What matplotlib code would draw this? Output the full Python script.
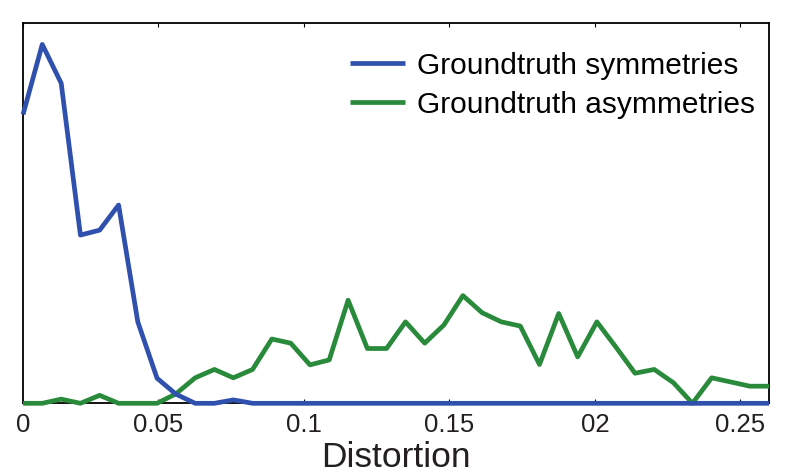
import matplotlib
matplotlib.use("Agg")
import matplotlib.pyplot as plt

# bin centres (distortion)
x = [0.0037, 0.0103, 0.0168, 0.0234, 0.0300, 0.0365, 0.0431, 0.0497, 0.0562, 0.0628,
     0.0694, 0.0759, 0.0825, 0.0891, 0.0956, 0.1022, 0.1088, 0.1153, 0.1219, 0.1285,
     0.1350, 0.1416, 0.1482, 0.1547, 0.1613, 0.1679, 0.1744, 0.1810, 0.1876, 0.1941,
     0.2007, 0.2073, 0.2138, 0.2204, 0.2270, 0.2335, 0.2401, 0.2467, 0.2532, 0.2598]

symmetries = [0.759, 0.943, 0.841, 0.442, 0.455, 0.521, 0.214, 0.066, 0.024, 0.0,
              0.0, 0.009, 0.0, 0.0, 0.0, 0.0, 0.0, 0.0, 0.0, 0.0,
              0.0, 0.0, 0.0, 0.0, 0.0, 0.0, 0.0, 0.0, 0.0, 0.0,
              0.0, 0.0, 0.0, 0.0, 0.0, 0.0, 0.0, 0.0, 0.0, 0.0]

asymmetries = [0.0, 0.0, 0.011, 0.0, 0.021, 0.0, 0.0, 0.0, 0.025, 0.067,
               0.089, 0.067, 0.089, 0.169, 0.158, 0.101, 0.114, 0.271, 0.144, 0.144,
               0.214, 0.158, 0.206, 0.283, 0.238, 0.214, 0.203, 0.102, 0.236, 0.122,
               0.214, 0.147, 0.079, 0.089, 0.054, 0.0, 0.067, 0.056, 0.045, 0.045]

tick_pos = [0.0037, 0.05, 0.10, 0.15, 0.20, 0.25]
tick_labels = ["0", "0.05", "0.1", "0.15", "02", "0.25"]
series_labels = ["Groundtruth symmetries", "Groundtruth asymmetries"]

plt.rcParams['font.family'] = ['Liberation Sans', 'DejaVu Sans']

fig = plt.figure(figsize=(7.89, 4.76), dpi=100)
ax = fig.add_axes([0.0292, 0.1527, 0.9455, 0.7996])

ax.plot(x, symmetries, color="#2f51ad", lw=3.4, label=series_labels[0],
        zorder=4, clip_on=False, solid_capstyle='butt')
ax.plot(x, asymmetries, color="#2a8a3b", lw=3.4, label=series_labels[1],
        zorder=3, clip_on=False, solid_capstyle='butt')

ax.set_xlim(0.0037, 0.2598)
ax.set_ylim(0, 1.0)
ax.set_yticks([])
ax.set_xticks(tick_pos)
ax.set_xticklabels(tick_labels, fontsize=18.5, color="#231f20")
ax.tick_params(axis='x', direction='in', length=3, width=0.8, top=True, pad=7)
for s in ax.spines.values():
    s.set_linewidth(1.3)
    s.set_color("black")
    s.set_zorder(2)

ax.set_xlabel("Distortion", fontsize=25.5, color="#231f20", labelpad=3)

leg = ax.legend(loc="upper right", bbox_to_anchor=(0.9973, 0.955), frameon=False,
                fontsize=21.5, handlelength=1.85, handletextpad=0.4,
                labelspacing=0.36, borderaxespad=0.0)

fig.savefig("out.png", dpi=100)
